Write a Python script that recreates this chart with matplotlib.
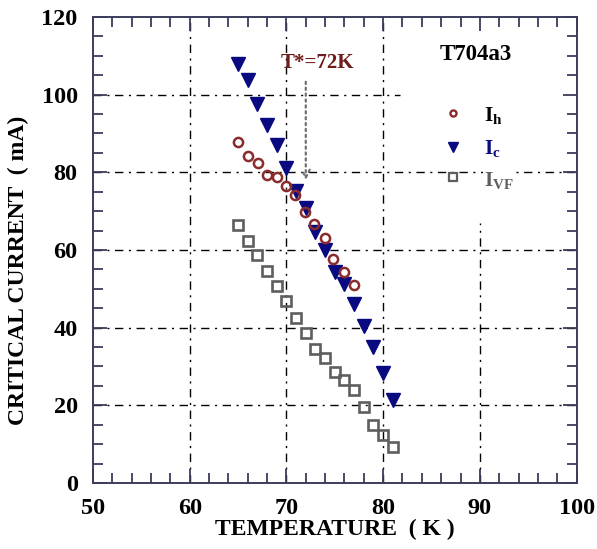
import matplotlib
matplotlib.use("Agg")
import matplotlib.pyplot as plt
from matplotlib.ticker import MultipleLocator

# --- data -------------------------------------------------------------
temp_h = [65.0, 66.0, 67.1, 68.0, 69.0, 70.0, 70.9, 71.9, 72.9, 74.0, 74.8, 75.9, 77.0]
i_h = [87.9, 84.3, 82.3, 79.4, 78.7, 76.4, 74.2, 69.9, 66.7, 63.2, 57.7, 54.3, 50.9]

temp_c = [65, 66, 67, 68, 69, 70, 71, 72, 73, 74, 75, 76, 77, 78, 79, 80, 81]
i_c = [108.0, 103.7, 97.7, 92.2, 87.0, 81.0, 75.3, 70.8, 64.7, 60.0, 54.3, 51.3,
       46.0, 40.3, 35.0, 28.2, 21.5]

temp_vf = [65, 66, 67, 68, 69, 70, 71, 72, 73, 74, 75, 76, 77, 78, 79, 80, 81]
i_vf = [66.3, 62.2, 58.6, 54.5, 50.7, 46.8, 42.6, 38.5, 34.6, 32.3, 28.6, 26.5,
        23.9, 19.6, 14.9, 12.3, 9.3]

t_star = 72
sample_name = "T704a3"
x_label = "TEMPERATURE  ( K )"
y_label = "CRITICAL CURRENT  ( mA)"

# --- style --------------------------------------------------------------
plt.rcParams["font.family"] = ["Liberation Serif", "DejaVu Serif"]
plt.rcParams["font.weight"] = "bold"
plt.rcParams["mathtext.fontset"] = "custom"
plt.rcParams["mathtext.rm"] = "Liberation Serif:bold"
plt.rcParams["mathtext.bf"] = "Liberation Serif:bold"
plt.rcParams["mathtext.it"] = "Liberation Serif:bold"

frame_col = "#3c3c5c"
col_h = "#8b2c2c"
col_c = "#0a0a80"
col_vf = "#5e5e5e"

fig = plt.figure(figsize=(5.97, 5.49), dpi=100)
ax = fig.add_axes([0.1558, 0.1202, 0.81, 0.849])

ax.set_xlim(50, 100)
ax.set_ylim(0, 120)

# grid lines (dash-dot pattern); the 100 mA and 90 K lines stop at the label box
grid_kw = dict(color="black", lw=1.0, linestyle=(0, (6, 4, 1.5, 4)), zorder=1)
for gx in [60, 70, 80]:
    ax.plot([gx, gx], [0, 120], **grid_kw)
ax.plot([90, 90], [0, 67], **grid_kw)
for gy in [20, 40, 60, 80]:
    ax.plot([50, 100], [gy, gy], **grid_kw)
ax.plot([50, 81.7], [100, 100], **grid_kw)

# data series
ax.plot(temp_h, i_h, linestyle="none", marker="o", ms=6.6, mfc="none",
        mec=col_h, mew=1.8, zorder=4)
ax.plot(temp_c, i_c, linestyle="none", marker="v", ms=9.5, color=col_c, zorder=3)
ax.plot(temp_vf, i_vf, linestyle="none", marker="s", ms=7.3, mfc="none",
        mec=col_vf, mew=1.9, zorder=3)

# T* annotation
ax.text(73.2, 108.2, f"T*={t_star}K", color="#6e1c1c", fontsize=15,
        fontweight="bold", ha="center", va="center")
ax.annotate("", xy=(t_star, 78.0), xytext=(t_star, 103.3),
            arrowprops=dict(arrowstyle="->", linestyle=":", color="#707070",
                            lw=1.6, mutation_scale=14, shrinkA=0, shrinkB=0),
            zorder=5)

# sample name and key
ax.text(89.6, 110.2, sample_name, fontsize=16.5, fontweight="bold",
        ha="center", va="center", color="black")
key_x = 87.26
ax.plot([key_x], [95.2], marker="o", ms=4.4, mfc="white", mec=col_h, mew=1.7,
        linestyle="none", zorder=6)
ax.plot([key_x], [86.6], marker="v", ms=6.5, color=col_c, linestyle="none", zorder=6)
ax.plot([key_x], [78.7], marker="s", ms=5.5, mfc="white", mec=col_vf, mew=1.6,
        linestyle="none", zorder=6)
ax.text(90.4, 94.6, r"$\mathrm{I}_{\mathrm{h}}$", fontsize=15.5, color="black",
        ha="left", va="center")
ax.text(90.4, 86.2, r"$\mathrm{I}_{\mathrm{c}}$", fontsize=15.5, color=col_c,
        ha="left", va="center")
ax.text(90.4, 78.0, r"$\mathrm{I}_{\mathrm{VF}}$", fontsize=15.5, color=col_vf,
        ha="left", va="center", bbox=dict(facecolor="white", edgecolor="none", pad=0.5))

# axes, ticks
ax.xaxis.set_major_locator(MultipleLocator(10))
ax.xaxis.set_minor_locator(MultipleLocator(2))
ax.yaxis.set_major_locator(MultipleLocator(20))
ax.yaxis.set_minor_locator(MultipleLocator(5))
ax.tick_params(which="both", direction="in", top=True, right=True,
               color=frame_col, width=1.3)
ax.tick_params(which="major", length=10, labelsize=17.5, pad=11)
ax.tick_params(which="minor", length=7)
for lab in ax.get_xticklabels() + ax.get_yticklabels():
    lab.set_fontweight("bold")
for sp in ax.spines.values():
    sp.set_color(frame_col)
    sp.set_linewidth(1.4)

fig.text(18 / 597, 1 - 270 / 549, y_label, rotation=90, fontsize=17,
         fontweight="bold", ha="center", va="center")
fig.text(335 / 597, 1 - 529 / 549, x_label, fontsize=17, fontweight="bold",
         ha="center", va="center")

fig.savefig("out.png", dpi=100)
